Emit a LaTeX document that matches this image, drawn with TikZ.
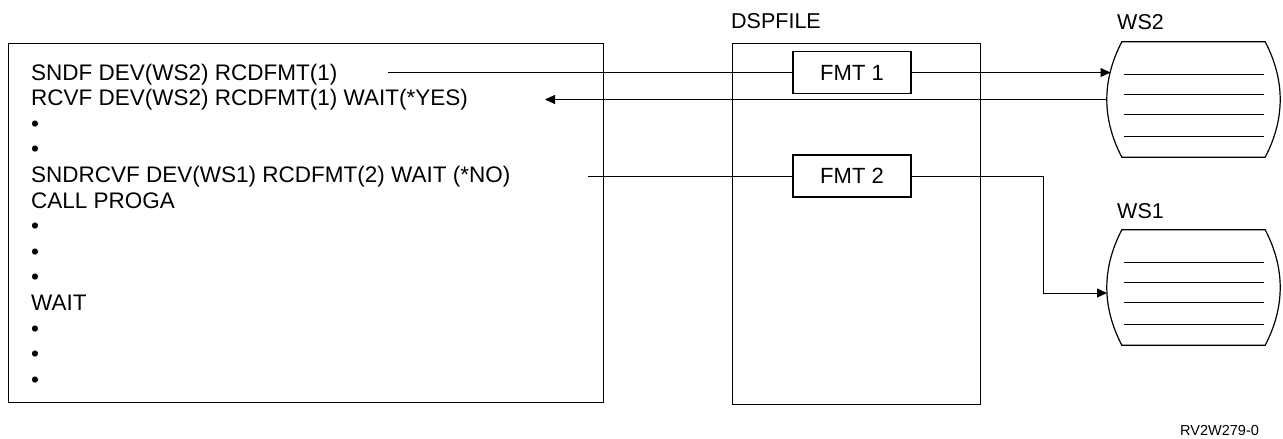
\documentclass[tikz,border=0pt]{standalone}
\usepackage{fontspec}
\setmainfont{Liberation Sans}
\usetikzlibrary{arrows.meta,calc}
\newcommand\drawws[1]{%
  \draw[shapeline] ($(#1.north west)+(15,0)$) -- ($(#1.north east)+(-15,0)$)
    .. controls ($(#1.east)+(5,-19.2)$) and ($(#1.east)+(5,19.2)$) .. ($(#1.south east)+(-15,0)$)
    -- ($(#1.south west)+(15,0)$)
    .. controls ($(#1.west)+(-5,19.2)$) and ($(#1.west)+(-5,-19.2)$) .. cycle;
  \foreach \o in {33,53,73,95}
    \draw[conn] ($(#1.north west)+(17,\o)$) -- ($(#1.north east)+(-16,\o)$);}
\begin{document}
\begin{tikzpicture}[x=1pt,y=-1pt,
  txt/.style={font=\fontsize{22.5}{25}\selectfont, inner sep=0pt, anchor=base west},
  lbl/.style={font=\fontsize{21.5}{25}\selectfont, inner sep=0pt, anchor=base west},
  bigbox/.style={draw, line width=1.3pt, inner sep=0pt, anchor=north west},
  fmtbox/.style={draw, line width=1.1pt, inner sep=0pt, minimum width=118pt, minimum height=42pt,
    font=\fontsize{22}{25}\selectfont},
  wsnode/.style={inner sep=0pt, minimum width=173pt, minimum height=115pt},
  shapeline/.style={line width=1.2pt},
  conn/.style={line width=1pt},
  arr/.style={conn, -{Triangle[length=10pt,width=9pt]}}]
\useasboundingbox (0,0) rectangle (1283,439);

% program box
\node[bigbox, minimum width=595pt, minimum height=359pt] (prog) at (8,43) {};
\foreach \t [count=\i] in {{SNDF DEV(WS2) RCDFMT(1)},{RCVF DEV(WS2) RCDFMT(1) WAIT(*YES)},{•},{•},
  {SNDRCVF DEV(WS1) RCDFMT(2) WAIT (*NO)},{CALL PROGA},{•},{•},{•},{WAIT},{•},{•},{•}}
  \node[txt] (l\i) at (31,{80+25.6*(\i-1)}) {\t};

% display file
\node[lbl] (dsplbl) at (731,28) {DSPFILE};
\node[bigbox, minimum width=248pt, minimum height=361pt] (dsp) at (732,43) {};
\node[fmtbox] (fmt1) at (852,72.5) {FMT 1};
\node[fmtbox] (fmt2) at (852,176) {FMT 2};

% workstations
\node[lbl] (ws2lbl) at (1117,29) {WS2};
\node[wsnode] (ws2) at (1193.5,99.5) {};
\drawws{ws2}
\node[lbl] (ws1lbl) at (1117,218) {WS1};
\node[wsnode] (ws1) at (1193.5,287.5) {};
\drawws{ws1}

% connectors
\coordinate (s1) at (388,72.5);
\coordinate (w2in) at (1110.5,72.5);
\coordinate (r2) at (545,99.5);
\coordinate (s3) at (588,176);
\coordinate (bend) at (1043,176);
\coordinate (w1in) at (1107,293);
\draw[conn] (s1) -- (fmt1.west);
\draw[arr] (fmt1.east) -- (w2in);
\draw[arr] (ws2.west) -- (r2);
\draw[conn] (s3) -- (fmt2.west);
\draw[arr] (fmt2.east) -- (bend) |- (w1in);

\node[font=\fontsize{14.5}{16}\selectfont, inner sep=0pt, anchor=base west] (ref) at (1180,435) {RV2W279-0};
\end{tikzpicture}
\end{document}
